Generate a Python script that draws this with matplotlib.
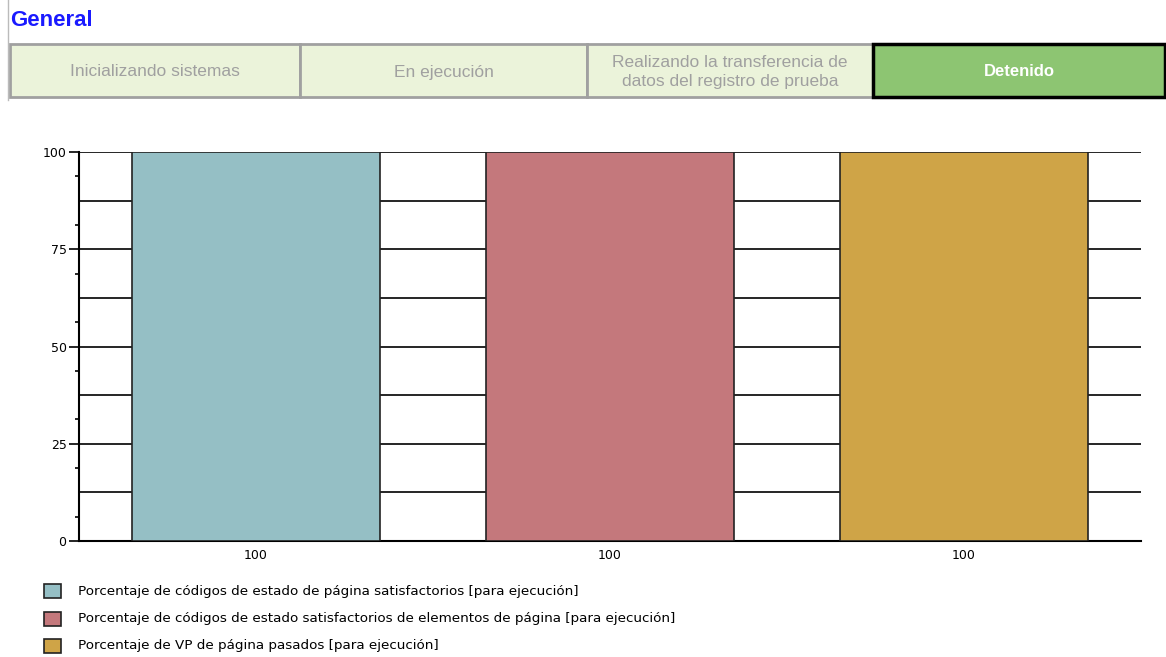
import matplotlib.pyplot as plt
from matplotlib.patches import Rectangle
from matplotlib.lines import Line2D

# data
categories = ['100', '100', '100']
values = [100, 100, 100]
series = ['Porcentaje de códigos de estado de página satisfactorios [para ejecución]',
          'Porcentaje de códigos de estado satisfactorios de elementos de página [para ejecución]',
          'Porcentaje de VP de página pasados [para ejecución]']
colors = ['#95bfc5', '#c4787c', '#cfa447']
stages = ['Inicializando sistemas', 'En ejecución',
          'Realizando la transferencia de\ndatos del registro de prueba', 'Detenido']
active_stage = 3

W, H = 1166, 657
fig = plt.figure(figsize=(W / 100, H / 100), dpi=100)
plt.rcParams['font.family'] = ['DejaVu Sans']

def fx(px):
    return px / W

def fy(py):
    return 1 - py / H

# header
fig.text(fx(10), fy(21), 'General', color='#1a1aff', fontsize=16, fontweight='bold',
         va='center', family='Liberation Sans')
fig.add_artist(Line2D([fx(8), fx(8)], [fy(0), fy(100)], color='#bbbbbb', lw=1))
edges = [10, 300, 587, 873, 1166]
for i, lab in enumerate(stages):
    x0, x1 = edges[i], edges[i + 1]
    if i == active_stage:
        continue
    fig.add_artist(Rectangle((fx(x0), fy(97)), fx(x1 - x0), fy(44) - fy(97),
                             facecolor='#ebf3da', edgecolor='#a0a0a0', lw=2))
    fig.text(fx((x0 + x1) / 2), fy(72), lab, ha='center', va='center',
             color='#a0a0a0', fontsize=12.5, linespacing=1.4, family='Liberation Sans')
x0, x1 = edges[active_stage], edges[active_stage + 1]
fig.add_artist(Rectangle((fx(x0), fy(97)), fx(x1 - x0 - 1), fy(44) - fy(97),
                         facecolor='#8dc572', edgecolor='black', lw=2.5))
fig.text(fx((x0 + x1) / 2), fy(71), stages[active_stage], ha='center', va='center',
         color='white', fontsize=12, fontweight='bold', family='Liberation Sans')

# chart
ax = fig.add_axes([fx(79), fy(541), fx(1141 - 79), fy(152) - fy(541)])
xs = range(len(values))
ax.bar(xs, values, width=0.7, color=colors, edgecolor='#222222', lw=1.2, zorder=3)
ax.set_xlim(-0.5, 2.5)
ax.set_ylim(0, 100)
ax.set_yticks([0, 25, 50, 75, 100])
ax.set_yticks([6.25, 18.75, 31.25, 43.75, 56.25, 68.75, 81.25, 93.75], minor=True)
for y in [12.5, 25, 37.5, 50, 62.5, 75, 87.5, 100]:
    ax.axhline(y, color='black', lw=1.2, zorder=1)
ax.set_xticks(list(xs))
ax.set_xticklabels(categories)
ax.tick_params(axis='x', length=0, pad=6, labelsize=9)
ax.tick_params(axis='y', which='major', length=7, width=1.2, labelsize=9, pad=2)
ax.tick_params(axis='y', which='minor', length=3, width=1.2)
for s in ['top', 'right']:
    ax.spines[s].set_visible(False)
ax.spines['left'].set_linewidth(1.5)
ax.spines['bottom'].set_linewidth(1.5)

# legend
for i, lab in enumerate(series):
    yc = 591 + i * 27.5
    fig.add_artist(Rectangle((fx(44), fy(yc + 7)), fx(17), fy(yc - 7) - fy(yc + 7),
                             facecolor=colors[i], edgecolor='#222222', lw=1.2))
    fig.text(fx(78), fy(yc), lab, va='center', fontsize=9.7)

fig.savefig('out.png', dpi=100)
